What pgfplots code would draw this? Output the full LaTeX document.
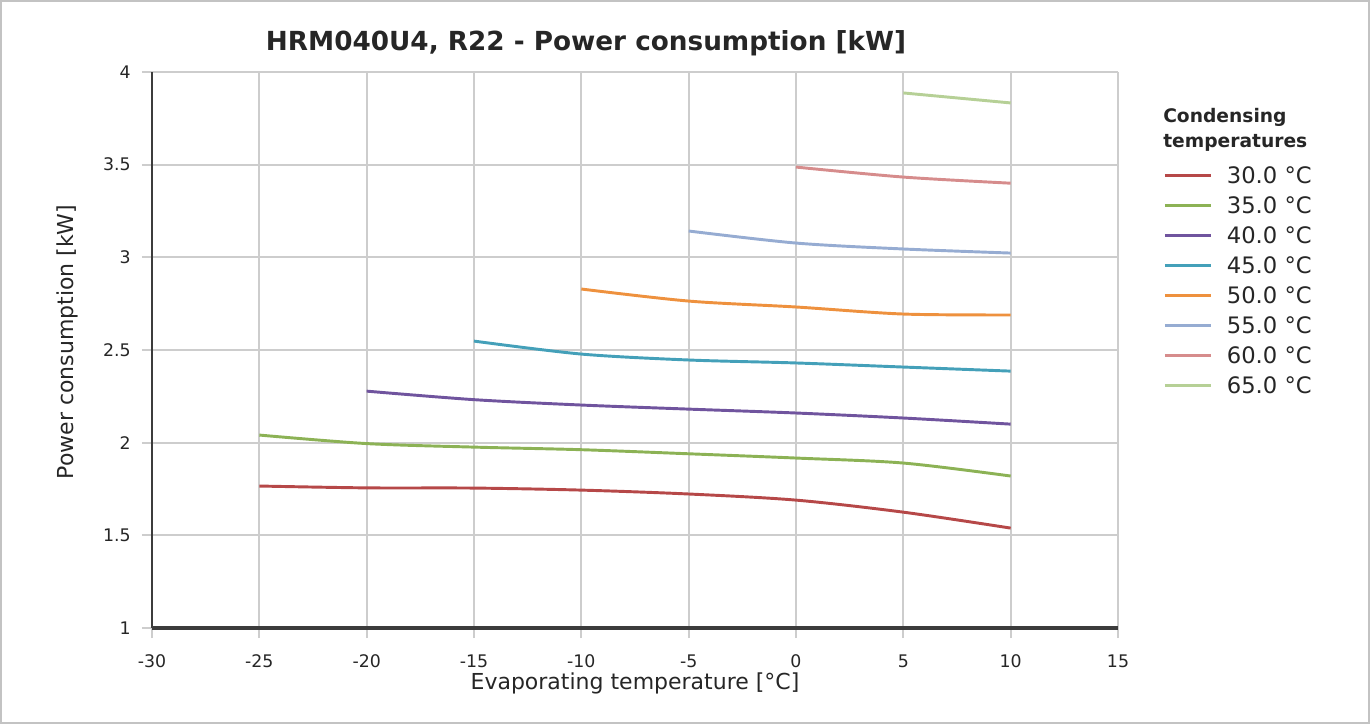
\documentclass[border=0pt]{standalone}
\usepackage{pgfplots}
\pgfplotsset{compat=1.18}
\usepackage{fontspec}
\setmainfont{DejaVu Sans}
\definecolor{c30}{RGB}{182,72,72}
\definecolor{c35}{RGB}{140,178,85}
\definecolor{c40}{RGB}{112,84,158}
\definecolor{c45}{RGB}{68,160,185}
\definecolor{c50}{RGB}{238,145,62}
\definecolor{c55}{RGB}{150,172,210}
\definecolor{c60}{RGB}{214,140,140}
\definecolor{c65}{RGB}{182,208,150}
\definecolor{gridc}{RGB}{205,205,205}
\definecolor{axisc}{RGB}{60,60,60}
\definecolor{framec}{RGB}{195,195,195}
\begin{document}
\begin{tikzpicture}
\useasboundingbox (0,0) rectangle (1027.5pt,543pt);
\draw[line width=1.5pt, framec] (0.75pt,0.75pt) rectangle (1026.75pt,542.25pt);
\node[font=\bfseries\fontsize{19.7}{23}\selectfont, text=black!85] at (439.5pt,510.75pt) {HRM040U4, R22 - Power consumption [kW]};
\node[anchor=base west, font=\bfseries\fontsize{14}{17}\selectfont, text=black!85, inner sep=0pt] at (872.25pt,450.75pt) {Condensing};
\node[anchor=base west, font=\bfseries\fontsize{14}{17}\selectfont, text=black!85, inner sep=0pt] at (872.25pt,432pt) {temperatures};
\begin{axis}[
  at={(114pt,72pt)}, anchor=south west,
  scale only axis, width=724.5pt, height=417pt,
  xmin=-30, xmax=15, ymin=1, ymax=4,
  xtick={-30,-25,...,15}, ytick={1,1.5,...,4},
  axis x line*=bottom, axis y line*=left,
  x axis line style={-, line width=3pt, axisc},
  y axis line style={-, line width=2pt, axisc},
  grid=major, major grid style={line width=1.5pt, gridc},
  tick align=outside, major tick length=7.5pt,
  tick style={line width=1.5pt, gridc},
  /pgf/number format/assume math mode=true,
  ticklabel style={font=\fontsize{13}{15}\selectfont, text=black!85},
  yticklabel style={xshift=-5pt},
  xticklabel style={yshift=-9pt},
  xlabel={Evaporating temperature [°C]},
  ylabel={Power consumption [kW]},
  label style={font=\fontsize{16.5}{19}\selectfont, text=black!85},
  xlabel style={yshift=3pt},
  ylabel style={yshift=12pt, xshift=6pt},
  every axis plot/.append style={line width=2.2pt, smooth},
  legend cell align=left,
  legend style={draw=none, fill=none, at={(1.0466,0.8299)}, anchor=north west,
    inner sep=0pt, row sep=10pt,
    nodes={inner sep=0pt, text height=12.5pt, text depth=0pt},
    font=\fontsize{17}{20}\selectfont, text=black!85,
    /tikz/every odd column/.append style={column sep=10.5pt}},
  legend image code/.code={\draw[#1] (0pt,0pt) -- (35pt,0pt);},
]
\addplot[c30] coordinates {(-25,1.766) (-20,1.756) (-15,1.755) (-10,1.744) (-5,1.723) (0,1.690) (5,1.625) (10,1.539)};
\addlegendentry{30.0 °C}
\addplot[c35] coordinates {(-25,2.041) (-20,1.995) (-15,1.976) (-10,1.962) (-5,1.940) (0,1.917) (5,1.890) (10,1.820)};
\addlegendentry{35.0 °C}
\addplot[c40] coordinates {(-20,2.278) (-15,2.232) (-10,2.203) (-5,2.181) (0,2.160) (5,2.133) (10,2.100)};
\addlegendentry{40.0 °C}
\addplot[c45] coordinates {(-15,2.548) (-10,2.478) (-5,2.446) (0,2.430) (5,2.408) (10,2.386)};
\addlegendentry{45.0 °C}
\addplot[c50] coordinates {(-10,2.829) (-5,2.764) (0,2.732) (5,2.694) (10,2.689)};
\addlegendentry{50.0 °C}
\addplot[c55] coordinates {(-5,3.142) (0,3.077) (5,3.045) (10,3.023)};
\addlegendentry{55.0 °C}
\addplot[c60] coordinates {(0,3.487) (5,3.433) (10,3.400)};
\addlegendentry{60.0 °C}
\addplot[c65] coordinates {(5,3.887) (10,3.833)};
\addlegendentry{65.0 °C}
\end{axis}
\end{tikzpicture}
\end{document}
